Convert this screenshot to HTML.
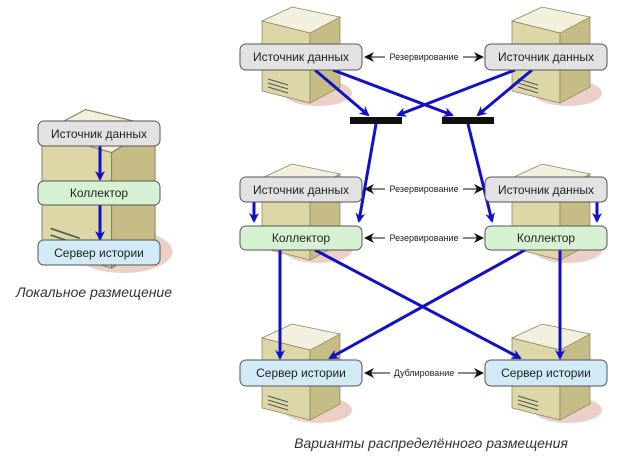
<!DOCTYPE html>
<html><head><meta charset="utf-8"><style>
html,body{margin:0;padding:0;background:#fff}
svg{display:block}
text{font-family:"Liberation Sans",sans-serif}
</style></head><body>
<svg width="624" height="461" viewBox="0 0 624 461" xmlns="http://www.w3.org/2000/svg">
<defs>
<g id="tw">
<ellipse cx="56" cy="90" rx="34" ry="13" fill="#ecd0c8"/>
<polygon points="0,18 48,30 48,100 0,88" fill="#ddd6a6" stroke="#8a8260" stroke-width="0.7"/>
<polygon points="48,30 78,14 78,84 48,100" fill="#c6bc86" stroke="#8a8260" stroke-width="0.7"/>
<polygon points="0,18 30,4 78,14 48,30" fill="#f3f0de" stroke="#8a8260" stroke-width="0.7"/>
<line x1="6" y1="76" x2="26" y2="82" stroke="#555" stroke-width="1"/>
<line x1="6" y1="80" x2="26" y2="86" stroke="#555" stroke-width="1"/>
<line x1="6" y1="84" x2="26" y2="90" stroke="#555" stroke-width="1"/>
</g>
<marker id="ab" markerWidth="10" markerHeight="10" refX="8" refY="5" orient="auto" markerUnits="userSpaceOnUse"><path d="M0,0 L10,5 L0,10 L3,5z" fill="#1010c8"/></marker>
<marker id="ak" markerWidth="10" markerHeight="10" refX="9" refY="5" orient="auto" markerUnits="userSpaceOnUse"><path d="M0,0 L10,5 L0,10 L3,5z" fill="#111"/></marker>
<marker id="aks" markerWidth="10" markerHeight="10" refX="1" refY="5" orient="auto" markerUnits="userSpaceOnUse"><path d="M10,0 L0,5 L10,10 L7,5z" fill="#111"/></marker>
</defs>
<use href="#tw" transform="translate(42,103) scale(1.45,1.65)"/>
<use href="#tw" x="262" y="3"/><use href="#tw" x="512" y="3"/>
<use href="#tw" x="262" y="160"/><use href="#tw" x="512" y="160"/>
<use href="#tw" x="262" y="320"/><use href="#tw" x="512" y="320"/>

<g stroke="#1010c8" stroke-width="3" fill="none" marker-end="url(#ab)">
<line x1="100" y1="146" x2="100" y2="179"/>
<line x1="100" y1="205" x2="100" y2="239"/>
<line x1="315" y1="70" x2="368" y2="115"/>
<line x1="333" y1="70" x2="452" y2="115"/>
<line x1="515" y1="70" x2="398" y2="115"/>
<line x1="532" y1="70" x2="478" y2="115"/>
<line x1="376" y1="124" x2="359" y2="221"/>
<line x1="468" y1="124" x2="492" y2="221"/>
<line x1="254" y1="202" x2="254" y2="221"/>
<line x1="597" y1="202" x2="597" y2="221"/>
<line x1="280" y1="250" x2="280" y2="358"/>
<line x1="315" y1="250" x2="520" y2="358"/>
<line x1="525" y1="250" x2="330" y2="358"/>
<line x1="560" y1="250" x2="560" y2="358"/>
</g>
<rect x="350" y="117" width="52" height="7" fill="#111"/>
<rect x="442" y="117" width="52" height="7" fill="#111"/>

<g stroke="#555" stroke-width="1">
<rect x="38" y="121" width="122" height="25" rx="6" fill="#e2e2e2"/>
<rect x="38" y="181" width="122" height="24" rx="6" fill="#d6f2d2"/>
<rect x="38" y="240" width="122" height="25" rx="6" fill="#d2e9f6"/>
<rect x="240" y="44" width="122" height="26" rx="6" fill="#e2e2e2"/>
<rect x="485" y="44" width="122" height="26" rx="6" fill="#e2e2e2"/>
<rect x="240" y="177" width="122" height="25" rx="6" fill="#e2e2e2"/>
<rect x="485" y="177" width="122" height="25" rx="6" fill="#e2e2e2"/>
<rect x="240" y="226" width="122" height="24" rx="6" fill="#d6f2d2"/>
<rect x="485" y="226" width="122" height="24" rx="6" fill="#d6f2d2"/>
<rect x="240" y="360" width="122" height="26" rx="6" fill="#d2e9f6"/>
<rect x="485" y="360" width="122" height="26" rx="6" fill="#d2e9f6"/>
</g>
<g font-size="12" fill="#222" text-anchor="middle">
<text x="99" y="138">Источник данных</text>
<text x="99" y="197">Коллектор</text>
<text x="99" y="257">Сервер истории</text>
<text x="301" y="61">Источник данных</text>
<text x="546" y="61">Источник данных</text>
<text x="301" y="194">Источник данных</text>
<text x="546" y="194">Источник данных</text>
<text x="301" y="242">Коллектор</text>
<text x="546" y="242">Коллектор</text>
<text x="301" y="377">Сервер истории</text>
<text x="546" y="377">Сервер истории</text>
</g>
<g stroke="#111" stroke-width="1" marker-start="url(#aks)" marker-end="url(#ak)">
<line x1="365" y1="57" x2="483" y2="57"/>
<line x1="365" y1="189" x2="483" y2="189"/>
<line x1="365" y1="238" x2="483" y2="238"/>
<line x1="365" y1="373" x2="483" y2="373"/>
</g>
<g font-size="9" fill="#222" text-anchor="middle">
<rect x="385" y="51" width="78" height="12" fill="#fff"/><text x="424" y="60">Резервирование</text>
<rect x="385" y="183" width="78" height="12" fill="#fff"/><text x="424" y="192">Резервирование</text>
<rect x="385" y="232" width="78" height="12" fill="#fff"/><text x="424" y="241">Резервирование</text>
<rect x="390" y="367" width="68" height="12" fill="#fff"/><text x="424" y="376">Дублирование</text>
</g>
<g font-size="14" font-style="italic" fill="#333" text-anchor="middle">
<text x="94" y="297">Локальное размещение</text>
<text x="431" y="448">Варианты распределённого размещения</text>
</g>
</svg>
</body></html>
